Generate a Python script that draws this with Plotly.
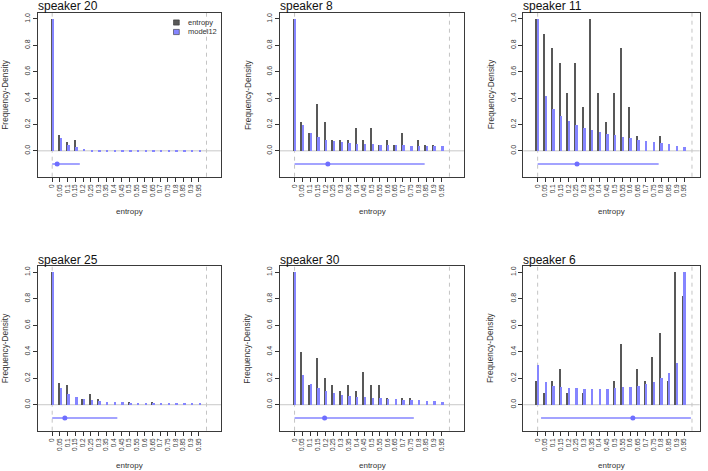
import plotly.graph_objects as go

# ---------------- data ----------------
bins = [0, 0.05, 0.1, 0.15, 0.2, 0.25, 0.3, 0.35, 0.4, 0.45,
        0.5, 0.55, 0.6, 0.65, 0.7, 0.75, 0.8, 0.85, 0.9, 0.95]
bin_labels = ["0", "0.05", "0.1", "0.15", "0.2", "0.25", "0.3", "0.35", "0.4", "0.45",
              "0.5", "0.55", "0.6", "0.65", "0.7", "0.75", "0.8", "0.85", "0.9", "0.95"]
y_ticks = [0, 0.2, 0.4, 0.6, 0.8, 1.0]
y_tick_labels = ["0.0", "0.2", "0.4", "0.6", "0.8", "1.0"]

speakers = ["speaker 20", "speaker 8", "speaker 11", "speaker 25", "speaker 30", "speaker 6"]

s20_entropy = [1.0, 0.126, 0.07, 0.088, 0, 0, 0, 0, 0, 0, 0, 0, 0, 0, 0, 0, 0, 0, 0, 0]
s20_model12 = [1.0, 0.10, 0.05, 0.03, 0.018, 0.012, 0.009, 0.007, 0.006, 0.005,
               0.004, 0.004, 0.003, 0.003, 0.003, 0.003, 0.003, 0.003, 0.003, 0.003]
s20_interval = [0.0, 0.032, 0.179]   # low, estimate, high

s8_entropy = [1.0, 0.22, 0.134, 0.354, 0.22, 0.088, 0.088, 0.088, 0.177, 0.088,
              0.177, 0.045, 0.088, 0.045, 0.134, 0, 0.088, 0.045, 0.045, 0]
s8_model12 = [1.0, 0.2, 0.134, 0.105, 0.088, 0.076, 0.068, 0.062, 0.057, 0.054,
              0.051, 0.049, 0.047, 0.045, 0.044, 0.042, 0.041, 0.04, 0.04, 0.041]
s8_interval = [0.0, 0.215, 0.84]

s11_entropy = [1.0, 0.889, 0.778, 0.667, 0.444, 0.667, 0.333, 1.0, 0.444, 0.222,
               0.444, 0.778, 0.333, 0.111, 0, 0, 0.111, 0, 0, 0]
s11_model12 = [1.0, 0.42, 0.32, 0.263, 0.225, 0.2, 0.175, 0.157, 0.142, 0.129,
               0.119, 0.106, 0.096, 0.086, 0.076, 0.068, 0.061, 0.053, 0.04, 0.03]
s11_interval = [0.0, 0.255, 0.784]

s25_entropy = [1.0, 0.167, 0.146, 0, 0.042, 0.083, 0.042, 0, 0, 0,
               0.021, 0, 0, 0.021, 0, 0, 0, 0, 0, 0]
s25_model12 = [1.0, 0.126, 0.078, 0.055, 0.043, 0.033, 0.028, 0.022, 0.02, 0.018,
               0.015, 0.013, 0.012, 0.011, 0.01, 0.009, 0.008, 0.007, 0.006, 0.006]
s25_interval = [0.0, 0.082, 0.422]

s30_entropy = [1.0, 0.4, 0.15, 0.35, 0.2, 0.15, 0.1, 0.15, 0.1, 0.25,
               0.15, 0.15, 0.05, 0, 0.05, 0.05, 0, 0, 0, 0]
s30_model12 = [1.0, 0.228, 0.158, 0.123, 0.1, 0.085, 0.075, 0.068, 0.06, 0.055,
               0.053, 0.05, 0.045, 0.04, 0.038, 0.035, 0.032, 0.03, 0.025, 0.02]
s30_interval = [0.0, 0.194, 0.77]

s6_entropy = [0.182, 0.091, 0.182, 0.273, 0.091, 0, 0.091, 0, 0, 0,
              0.182, 0.455, 0, 0.273, 0.182, 0.364, 0.545, 0.182, 1.0, 0.818]
s6_model12 = [0.30, 0.168, 0.143, 0.133, 0.126, 0.123, 0.12, 0.118, 0.118, 0.12,
              0.128, 0.133, 0.135, 0.145, 0.16, 0.173, 0.198, 0.238, 0.316, 1.0]
s6_interval = [0.022, 0.617, 0.993]

entropy_all = [s20_entropy, s8_entropy, s11_entropy, s25_entropy, s30_entropy, s6_entropy]
model_all = [s20_model12, s8_model12, s11_model12, s25_model12, s30_model12, s6_model12]
interval_all = [s20_interval, s8_interval, s11_interval, s25_interval, s30_interval, s6_interval]

# ---------------- layout / style ----------------
W, H = 708, 471
FONT = "Liberation Sans, Arial, sans-serif"
BLACK = "#585858"
BLUE = "#8585FF"
BLUE_PT = "#6E6EFF"
CI_Y = -0.1

col_px = [(37.7, 221.0, [-0.094, 1.094]),
          (280.0, 464.0, [-0.094, 1.094]),
          (523.3, 699.7, [-0.093, 1.05])]
row_px = [(12.7, 176.7), (266.0, 430.7)]
YR = [-0.196, 1.047]

def px(xp):
    return xp / W

def py(yp):
    return 1 - yp / H

fig = go.Figure()
shapes = []
annotations = []
layout_axes = {}

for i in range(6):
    r, c = divmod(i, 3)
    k = i + 1
    xs = "" if k == 1 else str(k)
    xr, yr = "x" + xs, "y" + xs
    left, right, xrange_ = col_px[c]
    top, bottom = row_px[r]

    fig.add_trace(go.Bar(x=bins, y=entropy_all[i], width=0.008, offset=-0.009,
                         marker=dict(color=BLACK, line_width=0),
                         xaxis=xr, yaxis=yr, showlegend=False, name="entropy"))
    fig.add_trace(go.Bar(x=bins, y=model_all[i], width=0.012, offset=0.0,
                         marker=dict(color=BLUE, line_width=0),
                         xaxis=xr, yaxis=yr, showlegend=False, name="model12"))
    lo, est, hi = interval_all[i]
    fig.add_trace(go.Scatter(x=[lo, hi], y=[CI_Y, CI_Y], mode="lines",
                             line=dict(color=BLUE, width=1.5),
                             xaxis=xr, yaxis=yr, showlegend=False, hoverinfo="skip"))
    fig.add_trace(go.Scatter(x=[est], y=[CI_Y], mode="markers",
                             marker=dict(color=BLUE_PT, size=5),
                             xaxis=xr, yaxis=yr, showlegend=False))

    layout_axes["xaxis" + xs] = dict(
        domain=[px(left), px(right)], anchor=yr, range=xrange_,
        tickmode="array", tickvals=bins, ticktext=bin_labels, tickangle=-90,
        tickfont=dict(size=6.5, color="#333", family=FONT),
        ticks="outside", ticklen=4, tickcolor="#333", tickwidth=1,
        showgrid=False, zeroline=False, showline=True, mirror=True,
        linecolor="#3a3a3a", linewidth=1, fixedrange=True)
    layout_axes["yaxis" + xs] = dict(
        domain=[py(bottom), py(top)], anchor=xr, range=YR,
        tickmode="array", tickvals=y_ticks, ticktext=y_tick_labels, tickangle=-90,
        tickfont=dict(size=7, color="#333", family=FONT),
        ticks="outside", ticklen=4, tickcolor="#333", tickwidth=1,
        showgrid=False, zeroline=False, showline=True, mirror=True,
        linecolor="#3a3a3a", linewidth=1, fixedrange=True)

    for v in (0, 1):
        shapes.append(dict(type="line", xref=xr, yref=yr + " domain", x0=v, x1=v, y0=0, y1=1,
                           line=dict(color="#C4C4C4", width=1, dash="4px,4px"), layer="below"))
    shapes.append(dict(type="line", xref=xr + " domain", yref=yr, x0=0, x1=1, y0=0, y1=0,
                       line=dict(color="#C8C8C8", width=1), layer="below"))

    annotations.append(dict(text=speakers[i], xref="paper", yref="paper",
                            x=px(left), y=py(top), xanchor="left", yanchor="bottom",
                            xshift=-1, yshift=-1.5, borderpad=0, showarrow=False,
                            font=dict(size=12, color="#111", family=FONT)))
    annotations.append(dict(text="Frequency-Density", xref="paper", yref="paper",
                            x=px(left - 32.7), y=py((top + bottom) / 2), textangle=-90,
                            xanchor="center", yanchor="middle", showarrow=False,
                            font=dict(size=8.3, color="#333", family=FONT)))
    annotations.append(dict(text="entropy", xref="paper", yref="paper",
                            x=px((left + right) / 2), y=py(bottom + 34.3),
                            xanchor="center", yanchor="middle", showarrow=False,
                            font=dict(size=8, color="#333", family=FONT)))

# legend (panel 1)
legend_items = [("entropy", BLACK, 22.5), ("model12", BLUE, 32.0)]
for name, colr, yc in legend_items:
    shapes.append(dict(type="rect", xref="paper", yref="paper",
                       x0=px(173.5), x1=px(179.3), y0=py(yc + 2.6), y1=py(yc - 2.6),
                       fillcolor=colr, line=dict(color="#333", width=0.6)))
    annotations.append(dict(text=name, xref="paper", yref="paper", x=px(185.5), y=py(yc),
                            xanchor="left", yanchor="middle", showarrow=False,
                            font=dict(size=7.5, color="#333", family=FONT)))

fig.update_layout(width=W, height=H, margin=dict(l=0, r=0, t=0, b=0),
                  paper_bgcolor="white", plot_bgcolor="white",
                  barmode="overlay", bargap=0, showlegend=False,
                  shapes=shapes, annotations=annotations,
                  font=dict(family=FONT), **layout_axes)

fig.write_html("out.html")
